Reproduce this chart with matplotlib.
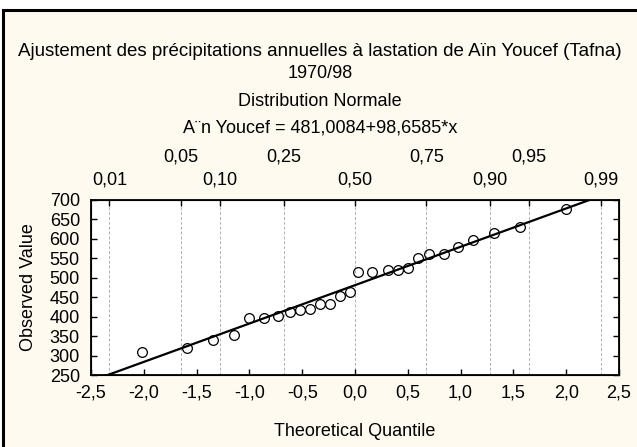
import numpy as np
import matplotlib.pyplot as plt
from matplotlib.patches import Rectangle
from statistics import NormalDist

# points
quantiles = [-2.02, -1.59, -1.34, -1.15, -1.00, -0.86, -0.73, -0.62, -0.52, -0.43,
             -0.33, -0.24, -0.145, -0.05, 0.03, 0.16, 0.31, 0.41, 0.50, 0.60,
             0.70, 0.84, 0.975, 1.12, 1.32, 1.56, 2.00]
rain = [308, 319, 339, 354, 396, 396, 401, 411, 417, 421,
        432, 432, 453, 463, 516, 516, 521, 519, 525, 552,
        562, 562, 578, 598, 614, 630, 676]

intercept = 481.0084
slope = 98.6585

probs = [0.01, 0.05, 0.10, 0.25, 0.50, 0.75, 0.90, 0.95, 0.99]
prob_labels = ["0,01", "0,05", "0,10", "0,25", "0,50", "0,75", "0,90", "0,95", "0,99"]
xticks = [-2.5, -2.0, -1.5, -1.0, -0.5, 0.0, 0.5, 1.0, 1.5, 2.0, 2.5]
yticks = [250, 300, 350, 400, 450, 500, 550, 600, 650, 700]

plt.rcParams['font.family'] = ['Liberation Sans', 'DejaVu Sans']
fs = 13
bg = "#FFFAF0"

fig = plt.figure(figsize=(6.37, 4.47), dpi=100)
fig.patch.set_facecolor("white")
# cream panel with black frame on top and left
fig.patches.append(Rectangle((3 / 637, -0.1), 1.1, 1 - 10 / 447 + 0.1, transform=fig.transFigure,
                             facecolor=bg, edgecolor="black", linewidth=2.2, zorder=-5))

ax = fig.add_axes([91 / 637, 1 - 375 / 447, 528 / 637, 175 / 447])
ax.set_facecolor("white")

zq = [NormalDist().inv_cdf(p) for p in probs]
for z in zq:
    ax.axvline(z, color="#b0b0b0", linestyle=(0, (3, 2)), linewidth=0.7, zorder=1)

xl = np.array([-2.5, 2.5])
ax.plot(xl, intercept + slope * xl, color="black", linewidth=1.6, zorder=2)
ax.plot(quantiles, rain, linestyle="none", marker="o", markersize=7,
        markerfacecolor="none", markeredgecolor="black", markeredgewidth=0.9, zorder=3)

ax.set_xlim(-2.5, 2.5)
ax.set_ylim(250, 700)
ax.set_xticks(xticks)
ax.set_xticklabels([f"{v:.1f}".replace(".", ",") for v in xticks], fontsize=fs)
ax.set_yticks(yticks)
ax.set_yticklabels([str(v) for v in yticks], fontsize=fs)
ax.tick_params(direction="in", length=4, width=1, right=True)
ax.tick_params(axis="x", top=False, pad=7)
ax.tick_params(axis="y", pad=8)
for s in ax.spines.values():
    s.set_linewidth(1.3)

# top probability scale
ax2 = ax.twiny()
ax2.set_xlim(ax.get_xlim())
ax2.set_xticks(zq)
ax2.set_xticklabels([])
ax2.tick_params(direction="in", length=4, width=1)
for i, (z, lab) in enumerate(zip(zq, prob_labels)):
    yoff = 1.065 if i % 2 == 0 else 1.20
    ax.text(z, yoff, lab, transform=ax.get_xaxis_transform(), ha="center", va="bottom", fontsize=fs)

ax.set_xlabel("Theoretical Quantile", fontsize=fs, labelpad=15)
ax.set_ylabel("Observed Value", fontsize=fs, labelpad=9)

cx = 0.5 * (3 / 637 + 1)
fig.text(cx, 1 - 52 / 447, "Ajustement des précipitations annuelles à lastation de Aïn Youcef (Tafna)",
         ha="center", va="center", fontsize=13.5)
fig.text(cx, 1 - 74 / 447, "1970/98", ha="center", va="center", fontsize=fs)
fig.text(cx, 1 - 101 / 447, "Distribution Normale", ha="center", va="center", fontsize=fs)
fig.text(cx, 1 - 128 / 447, "A¨n Youcef = 481,0084+98,6585*x", ha="center", va="center", fontsize=fs)

fig.savefig("out.png", dpi=100, facecolor=fig.get_facecolor())
